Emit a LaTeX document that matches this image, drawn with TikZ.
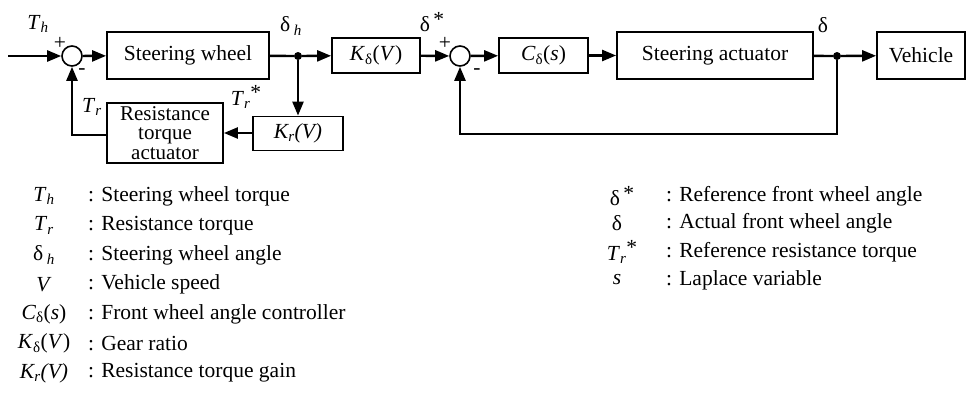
\documentclass[tikz,border=0pt]{standalone}
\usepackage{fontspec}
\setmainfont{Liberation Serif}
\usepackage{tikz}
\usetikzlibrary{arrows.meta, positioning, calc}
\newcommand{\tsym}[1]{\textit{T}\textsubscript{\textit{#1}}}
\newcommand{\tstar}{\textit{T}\textsubscript{\textit{r}}\raisebox{0.6ex}{*}}
\newcommand{\dstar}{δ\,\raisebox{0.55ex}{*}}
\tikzset{
    block/.style={rectangle, draw, line width=1.8pt, align=center, inner sep=2pt},
    sumnode/.style={circle, draw, line width=1.6pt, minimum size=20pt, inner sep=0pt},
    dot/.style={circle, fill, inner sep=0pt, minimum size=8pt},
    arrow/.style={-{Triangle[length=14pt, width=11pt]}, line width=2.4pt},
    line/.style={line width=2.4pt},
    label/.style={inner sep=0pt},
    legsym/.style={inner sep=0pt},
    legtxt/.style={anchor=west, inner sep=0pt},
}
\begin{document}
\begin{tikzpicture}[x=1pt, y=-1pt, font=\fontsize{21.5}{19}\selectfont]
    \useasboundingbox (0,0) rectangle (968,400);
    % Blocks
    \coordinate (in) at (8,56);
    \node[sumnode] (sum1) at (72,56) {};
    \node[block, minimum width=162pt, minimum height=47pt] (wheel) at (188,55.5) {Steering wheel};
    \node[dot] (dh) at (298,56) {};
    \node[block, minimum width=88pt, minimum height=35pt] (kd) at (376,55.5) {\textit{K}\textsubscript{δ}(\textit{V})};
    \node[sumnode] (sum2) at (460,56) {};
    \node[block, minimum width=89pt, minimum height=35pt] (cd) at (543.5,55.5) {\textit{C}\textsubscript{δ}(\textit{s})};
    \node[block, minimum width=196pt, minimum height=47pt] (act) at (715,55.5) {Steering actuator};
    \node[dot] (dd) at (837,56) {};
    \node[block, minimum width=88pt, minimum height=47pt] (veh) at (921,55.5) {Vehicle};
    \node[block, minimum width=90pt, minimum height=34pt] (kr) at (298,133.5) {\textit{K\textsubscript{r}(V)}};
    \node[block, minimum width=116pt, minimum height=60pt, inner sep=0pt, font=\fontsize{21}{19.5}\selectfont] (res) at (165,133) {Resistance\\torque\\actuator};
    \coordinate (fb1) at (72,135);
    \coordinate (fb2a) at (837,134);
    \coordinate (fb2b) at (460,134);

    % Signal labels
    \node[label] (lTh) at (38,24) {\tsym{h}};
    \node[label] (p1) at (60,43) {+};
    \node[label] (m1) at (82,72) {-};
    \node[label] (ldh) at (291,26) {δ\,\textsubscript{\textit{h}}};
    \node[label] (lTr) at (92,107) {\tsym{r}};
    \node[label] (lTrs) at (246,97) {\tstar};
    \node[label] (lds) at (432,22) {\dstar};
    \node[label] (p2) at (445,43) {+};
    \node[label] (m2) at (477,72) {-};
    \node[label] (ld) at (823,25) {δ};

    % Arrows
    \draw[arrow] (in) -- (sum1);
    \draw[arrow] (sum1) -- (wheel);
    \draw[line] (wheel) -- (dh);
    \draw[arrow] (dh) -- (kd);
    \draw[arrow] (dh) -- (kr);
    \draw[arrow] (kr.west |- res.east) -- (res.east);
    \draw[arrow] (res.west |- fb1) -- (fb1) -- (sum1);
    \draw[arrow] (kd) -- (sum2);
    \draw[arrow] (sum2) -- (cd);
    \draw[arrow] (cd) -- (act);
    \draw[line] (act) -- (dd);
    \draw[arrow] (dd) -- (veh);
    \draw[arrow] (dd) -- (fb2a) -- (fb2b) -- (sum2);

    % Legend
    \node[legsym] (s1) at (44,196) {\tsym{h}};
    \node[legtxt] (t1) at (88,196) {: Steering wheel torque};
    \node[legsym] (s2) at (44,225.5) {\tsym{r}};
    \node[legtxt] (t2) at (88,225.5) {: Resistance torque};
    \node[legsym] (s3) at (44,255) {δ\,\textsubscript{\textit{h}}};
    \node[legtxt] (t3) at (88,255) {: Steering wheel angle};
    \node[legsym] (s4) at (44,284.5) {\textit{V}};
    \node[legtxt] (t4) at (88,284.5) {: Vehicle speed};
    \node[legsym] (s5) at (44,314) {\textit{C}\textsubscript{δ}(\textit{s})};
    \node[legtxt] (t5) at (88,314) {: Front wheel angle controller};
    \node[legsym] (s6) at (44,343.5) {\textit{K}\textsubscript{δ}(\textit{V})};
    \node[legtxt] (t6) at (88,343.5) {: Gear ratio};
    \node[legsym] (s7) at (44,373) {\textit{K\textsubscript{r}(V)}};
    \node[legtxt] (t7) at (88,373) {: Resistance torque gain};

    \node[legsym] (r1) at (622,196) {\dstar};
    \node[legtxt] (u1) at (666,196) {: Reference front wheel angle};
    \node[legsym] (r2) at (617,223.5) {δ};
    \node[legtxt] (u2) at (666,223.5) {: Actual front wheel angle};
    \node[legsym] (r3) at (622,252) {\tstar};
    \node[legtxt] (u3) at (666,252) {: Reference resistance torque};
    \node[legsym] (r4) at (617,280) {\textit{s}};
    \node[legtxt] (u4) at (666,280) {: Laplace variable};
\end{tikzpicture}
\end{document}
